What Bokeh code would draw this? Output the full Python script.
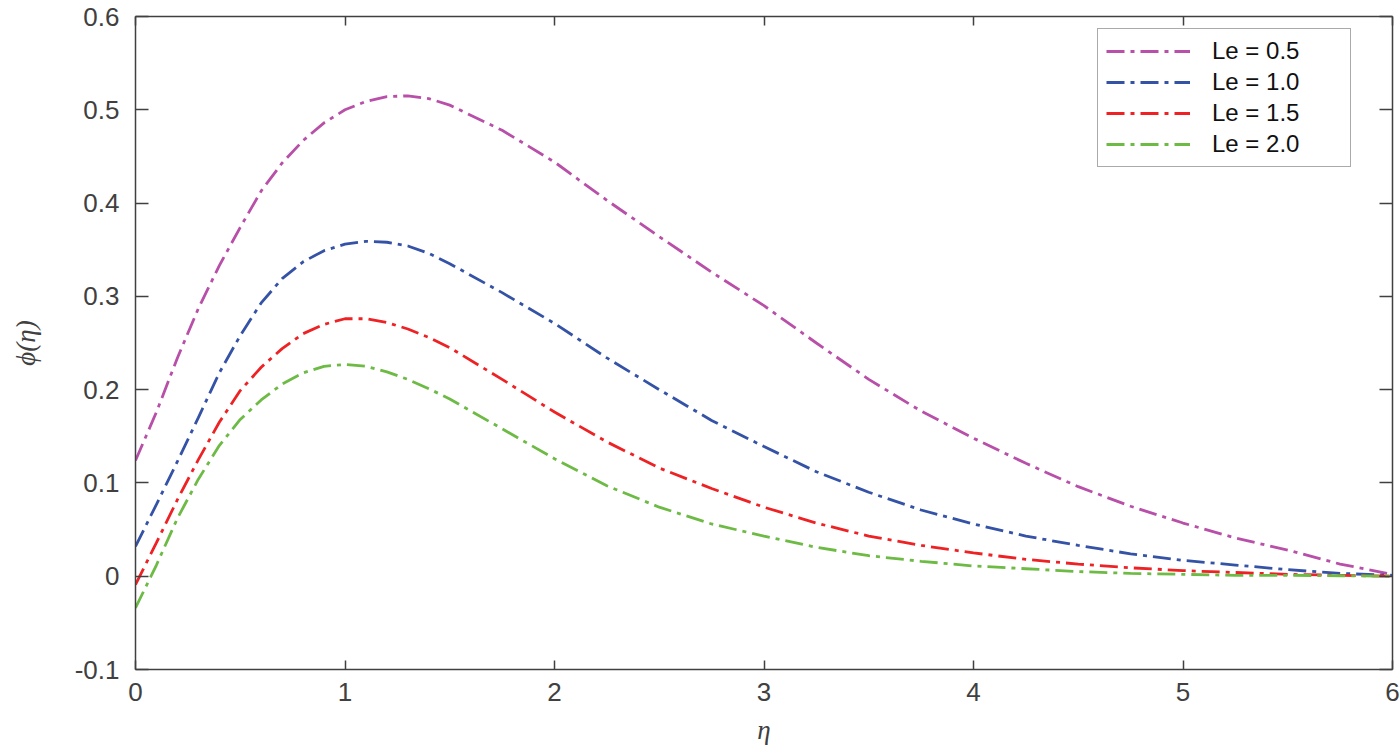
from bokeh.plotting import figure
from bokeh.models import LinearAxis, FixedTicker, Range1d, Legend, LegendItem, CustomJSTickFormatter
from bokeh.embed import file_html
from bokeh.resources import INLINE

eta = [0.0, 0.1, 0.2, 0.3, 0.4, 0.5, 0.6, 0.7, 0.8, 0.9, 1.0, 1.1, 1.2, 1.3, 1.4, 1.5,
       1.75, 2.0, 2.25, 2.5, 2.75, 3.0, 3.25, 3.5, 3.75, 4.0, 4.25, 4.5, 4.75, 5.0,
       5.25, 5.5, 5.75, 6.0]

phi_le05 = [0.124, 0.176, 0.234, 0.287, 0.333, 0.374, 0.413, 0.443, 0.467, 0.486,
            0.500, 0.509, 0.514, 0.515, 0.512, 0.505, 0.478, 0.444, 0.403, 0.364,
            0.326, 0.290, 0.250, 0.211, 0.177, 0.148, 0.121, 0.096, 0.075, 0.057,
            0.041, 0.028, 0.013, 0.002]
phi_le10 = [0.032, 0.077, 0.123, 0.170, 0.218, 0.258, 0.293, 0.319, 0.337, 0.349,
            0.356, 0.359, 0.358, 0.354, 0.346, 0.335, 0.304, 0.271, 0.234, 0.200,
            0.167, 0.139, 0.112, 0.090, 0.071, 0.056, 0.043, 0.033, 0.024, 0.017,
            0.012, 0.007, 0.003, 0.001]
phi_le15 = [-0.009, 0.036, 0.082, 0.125, 0.165, 0.199, 0.224, 0.244, 0.260, 0.270,
            0.276, 0.276, 0.272, 0.265, 0.256, 0.245, 0.211, 0.176, 0.144, 0.116,
            0.094, 0.074, 0.057, 0.043, 0.033, 0.025, 0.018, 0.013, 0.009, 0.006,
            0.004, 0.002, 0.001, 0.000]
phi_le20 = [-0.034, 0.012, 0.062, 0.104, 0.140, 0.168, 0.189, 0.206, 0.218, 0.225,
            0.227, 0.225, 0.219, 0.211, 0.201, 0.190, 0.158, 0.126, 0.097, 0.074,
            0.056, 0.043, 0.031, 0.022, 0.016, 0.011, 0.008, 0.005, 0.003, 0.002,
            0.001, 0.001, 0.0005, 0.0]

labels = ["Le = 0.5", "Le = 1.0", "Le = 1.5", "Le = 2.0"]
colors = ["#B84FA8", "#3452A6", "#EE2224", "#6DBA45"]
series = [phi_le05, phi_le10, phi_le15, phi_le20]

x_ticks = [0, 1, 2, 3, 4, 5, 6]
y_ticks = [-0.1, 0, 0.1, 0.2, 0.3, 0.4, 0.5, 0.6]
y_tick_labels = {-0.1: "-0.1", 0: "0", 0.1: "0.1", 0.2: "0.2", 0.3: "0.3",
                 0.4: "0.4", 0.5: "0.5", 0.6: "0.6"}

axis_col = "#404040"
font = "Liberation Sans"

p = figure(width=1400, height=753, output_backend="svg", toolbar_location=None,
           x_range=Range1d(0, 6), y_range=Range1d(-0.1, 0.6),
           min_border_left=135, min_border_right=8, min_border_top=16,
           min_border_bottom=84)
p.xgrid.visible = False
p.ygrid.visible = False
p.outline_line_color = None
p.background_fill_color = "white"

items = []
for lab, col, ys in zip(labels, colors, series):
    r = p.line(eta, ys, line_color=col, line_width=2.8, line_dash="18 6 4 6")
    items.append(LegendItem(label=lab, renderers=[r]))

# main axes
xa = p.xaxis[0]
ya = p.yaxis[0]
xa.ticker = FixedTicker(ticks=x_ticks)
ya.ticker = FixedTicker(ticks=y_ticks)
ya.major_label_overrides = y_tick_labels
for ax, tl in ((xa, 9), (ya, 13)):
    ax.major_tick_in = tl
    ax.major_tick_out = 0
    ax.minor_tick_in = 0
    ax.minor_tick_out = 0
    ax.axis_line_color = axis_col
    ax.axis_line_width = 1.5
    ax.major_tick_line_color = axis_col
    ax.major_tick_line_width = 1.5
    ax.major_label_text_font = font
    ax.major_label_text_font_size = "26px"
    ax.major_label_text_color = axis_col
xa.major_label_standoff = 13
ya.major_label_standoff = 16
xa.axis_label = "η"
ya.axis_label = "ϕ(η)"
for ax in (xa, ya):
    ax.axis_label_text_font = "Liberation Serif"
    ax.axis_label_text_font_style = "italic"
    ax.axis_label_text_font_size = "27px"
    ax.axis_label_text_color = axis_col
xa.axis_label_standoff = 11
ya.axis_label_standoff = 31

# box axes (top, right) with inward ticks, no labels
empty = CustomJSTickFormatter(code="return ''")
top = LinearAxis(ticker=FixedTicker(ticks=x_ticks), formatter=empty)
right = LinearAxis(ticker=FixedTicker(ticks=y_ticks), formatter=empty)
for ax, tl in ((top, 9), (right, 13)):
    ax.major_tick_in = tl
    ax.major_tick_out = 0
    ax.minor_tick_in = 0
    ax.minor_tick_out = 0
    ax.axis_line_color = axis_col
    ax.axis_line_width = 1.5
    ax.major_tick_line_color = axis_col
    ax.major_tick_line_width = 1.5
    ax.major_label_text_font_size = "0px"
    ax.major_label_standoff = 0
p.add_layout(top, "above")
p.add_layout(right, "right")

leg = Legend(items=items, location=(962, 502))
leg.label_text_font = font
leg.label_text_font_size = "24px"
leg.label_text_color = "#111111"
leg.glyph_width = 84
leg.glyph_height = 24
leg.label_height = 24
leg.label_width = 130
leg.label_standoff = 22
leg.spacing = 3
leg.padding = 8
leg.margin = 0
leg.border_line_color = "#555555"
leg.border_line_width = 1.5
leg.background_fill_color = "white"
leg.background_fill_alpha = 1.0
p.add_layout(leg, "center")

open("out.html", "w").write(file_html(p, INLINE))
